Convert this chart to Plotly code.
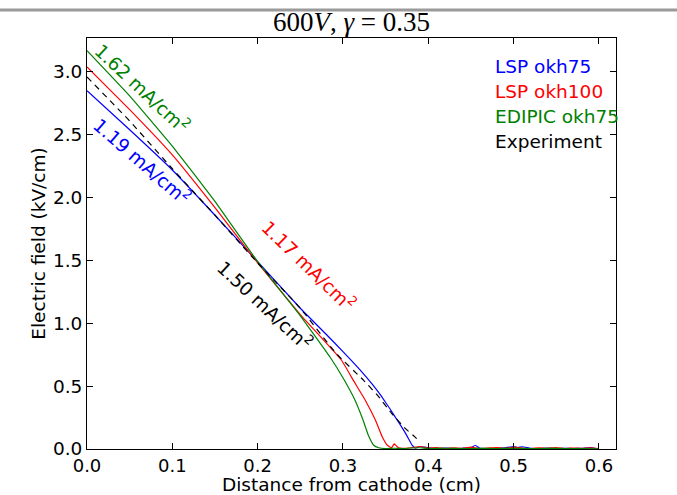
import plotly.graph_objects as go

# ---------------- data ----------------
blue_x = [0.0, 0.05, 0.10, 0.15, 0.20, 0.25, 0.28, 0.30, 0.32, 0.335, 0.345, 0.355, 0.365, 0.372, 0.377, 0.381, 0.385,
          0.39, 0.40, 0.41, 0.42, 0.43, 0.44, 0.45, 0.455, 0.46, 0.47, 0.48, 0.49, 0.50, 0.505, 0.51,
          0.52, 0.53, 0.54, 0.55, 0.56, 0.57, 0.58, 0.59, 0.595, 0.60]
blue_y = [2.85, 2.54, 2.22, 1.86, 1.49, 1.12, 0.915, 0.775, 0.63, 0.51, 0.42, 0.32, 0.215, 0.14, 0.08, 0.03, 0.006,
          0.02, 0.01, 0.004, 0.008, 0.003, 0.006, 0.01, 0.03, 0.008, 0.004, 0.006, 0.01, 0.02, 0.012, 0.018,
          0.006, 0.004, 0.008, 0.003, 0.005, 0.004, 0.006, 0.012, 0.005, 0.0]

red_x = [0.0, 0.05, 0.10, 0.15, 0.20, 0.25, 0.298, 0.312, 0.326, 0.338, 0.346, 0.352, 0.357,
         0.36, 0.365, 0.37, 0.38, 0.39, 0.40, 0.41, 0.42, 0.43, 0.44, 0.45, 0.46, 0.47, 0.48, 0.49,
         0.50, 0.51, 0.52, 0.53, 0.54, 0.55, 0.56, 0.57, 0.58, 0.59, 0.60]
red_y = [3.04, 2.70, 2.34, 1.92, 1.48, 1.07, 0.71, 0.548, 0.39, 0.23, 0.098, 0.03, 0.01,
         0.04, 0.01, 0.005, 0.01, 0.02, 0.006, 0.012, 0.004, 0.01, 0.006, 0.015, 0.004, 0.008, 0.012, 0.005,
         0.015, 0.008, 0.004, 0.01, 0.006, 0.012, 0.004, 0.008, 0.005, 0.01, 0.003]

green_x = [0.0, 0.05, 0.10, 0.15, 0.20, 0.25, 0.285, 0.301, 0.314, 0.323, 0.330, 0.336, 0.342,
           0.35, 0.36, 0.37, 0.38, 0.39, 0.40, 0.42, 0.44, 0.46, 0.48, 0.50, 0.52, 0.54, 0.56, 0.58, 0.60]
green_y = [3.17, 2.81, 2.41, 1.97, 1.49, 1.06, 0.73, 0.555, 0.39, 0.24, 0.105, 0.03, 0.01,
           0.004, 0.006, 0.003, 0.008, 0.01, 0.004, 0.006, 0.003, 0.005, 0.004, 0.006, 0.003, 0.005, 0.004, 0.003, 0.002]

exp_x = [0.0, 0.05, 0.10, 0.15, 0.20, 0.25, 0.292, 0.324, 0.342, 0.357, 0.373, 0.384, 0.39]
exp_y = [2.96, 2.61, 2.23, 1.86, 1.48, 1.12, 0.76, 0.548, 0.415, 0.283, 0.164, 0.098, 0.058]

series_names = ["LSP okh75", "LSP okh100", "EDIPIC okh75", "Experiment"]
series_colors = ["#0000ff", "#ff0000", "#008000", "#000000"]

current_labels = ["1.19 mA/cm<sup>2</sup>", "1.17 mA/cm<sup>2</sup>", "1.62 mA/cm<sup>2</sup>", "1.50 mA/cm<sup>2</sup>"]
label_pos_x = [0.065, 0.260, 0.065, 0.209]
label_pos_y = [2.29, 1.465, 2.87, 1.147]
label_angle = [41, 44, 43, 43]

x_ticks = [0.0, 0.1, 0.2, 0.3, 0.4, 0.5, 0.6]
y_ticks = [0.0, 0.5, 1.0, 1.5, 2.0, 2.5, 3.0]

FONT = "DejaVu Sans"
FS = 18.5

fig = go.Figure()
xs = [blue_x, red_x, green_x, exp_x]
ys = [blue_y, red_y, green_y, exp_y]
for i in range(4):
    fig.add_trace(go.Scatter(
        x=xs[i], y=ys[i], mode="lines", name=series_names[i],
        line=dict(color=series_colors[i], width=1.2,
                  dash="6px,5px" if i == 3 else "solid",
                  shape="spline", smoothing=0.3),
        showlegend=False))

# current density labels
for i in range(4):
    fig.add_annotation(x=label_pos_x[i], y=label_pos_y[i], text=current_labels[i],
                       showarrow=False, textangle=label_angle[i],
                       font=dict(family=FONT, size=FS, color=series_colors[i]))

# text-only legend
for i in range(4):
    fig.add_annotation(xref="paper", yref="paper", x=0.768, y=0.93 - i * 0.0605,
                       xanchor="left", yanchor="middle", text=series_names[i], showarrow=False,
                       font=dict(family=FONT, size=FS, color=series_colors[i]))

# grey rule at very top of the page
fig.add_shape(type="line", xref="paper", yref="paper", x0=-0.2, x1=1.2, y0=1.068, y1=1.068,
              line=dict(color="#9a9a9a", width=3), layer="above")

axis_common = dict(showline=True, linecolor="black", linewidth=1, mirror="allticks",
                   ticks="inside", ticklen=6, tickcolor="black", showgrid=False, zeroline=False,
                   automargin=False)

fig.update_layout(
    width=677, height=495,
    margin=dict(l=87, r=61, t=38, b=46),
    paper_bgcolor="white", plot_bgcolor="white",
    title=dict(text="600<i>V</i>, <i>γ</i> = 0.35", x=0.5, xref="paper", xanchor="center",
               y=0.956, yanchor="middle",
               font=dict(family="Liberation Serif", size=27, color="black")),
    xaxis=dict(range=[0, 0.62], tickvals=x_ticks, tickformat=".1f",
               tickfont=dict(family=FONT, size=18, color="black"),
               title=dict(text="Distance from cathode (cm)", standoff=7,
                          font=dict(family=FONT, size=FS, color="black")),
               **axis_common),
    yaxis=dict(range=[0, 3.27], tickvals=y_ticks, tickformat=".1f",
               tickfont=dict(family=FONT, size=FS, color="black"),
               title=dict(text="Electric field (kV/cm)", standoff=2,
                          font=dict(family=FONT, size=FS, color="black")),
               **axis_common),
)

fig.write_html("out.html", config={"displayModeBar": False},
               post_script="document.body.style.margin='0px';")
